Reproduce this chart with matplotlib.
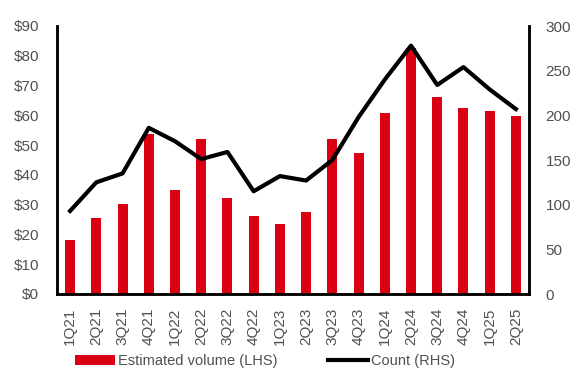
import matplotlib
matplotlib.use("Agg")
import matplotlib.pyplot as plt

quarters = ["1Q21", "2Q21", "3Q21", "4Q21", "1Q22", "2Q22", "3Q22", "4Q22",
            "1Q23", "2Q23", "3Q23", "4Q23", "1Q24", "2Q24", "3Q24", "4Q24",
            "1Q25", "2Q25"]
volume = [18.1, 25.5, 30.2, 53.7, 34.9, 52.0, 32.4, 26.1, 23.5, 27.5,
          51.9, 47.3, 60.7, 82.7, 66.1, 62.3, 61.4, 59.7]
count = [93, 125, 135, 186, 171, 151, 159, 115, 132, 127,
         150, 198, 240, 278, 234, 254, 229, 207]
left_ticks = list(range(0, 91, 10))
right_ticks = list(range(0, 301, 50))

plt.rcParams["font.family"] = ["Liberation Sans", "DejaVu Sans"]
red = "#DB0011"
grey = "#505050"

fig = plt.figure(figsize=(5.81, 3.78), dpi=100)
ax = fig.add_axes([57 / 581, 1 - 294 / 378, (529 - 57) / 581, (294 - 26) / 378])
ax2 = ax.twinx()

x = list(range(len(quarters)))
bars = ax.bar(x, volume, width=0.38, color=red, label="Estimated volume (LHS)")
line, = ax2.plot(x, count, color="black", linewidth=3, label="Count (RHS)")

ax.set_xlim(-0.5, len(quarters) - 0.5)
ax.set_ylim(0, 90)
ax2.set_ylim(0, 300)
ax.set_yticks(left_ticks)
ax.set_yticklabels([f"${v}" for v in left_ticks])
ax2.set_yticks(right_ticks)
ax.set_xticks(x)
ax.set_xticklabels(quarters, rotation=90)

for a in (ax, ax2):
    a.tick_params(length=0, labelsize=11, colors=grey)
    a.spines["top"].set_visible(False)
    for side in ("left", "right", "bottom"):
        a.spines[side].set_linewidth(1.8)
        a.spines[side].set_color("black")
ax.tick_params(axis="y", pad=13)
ax2.tick_params(axis="y", pad=12)
ax.tick_params(axis="x", pad=10)

leg = fig.legend([bars, line], ["Estimated volume (LHS)", "Count (RHS)"],
                 loc="center", bbox_to_anchor=(265 / 581, 1 - 361 / 378), ncol=2,
                 frameon=False, fontsize=10.5, handlelength=2.7,
                 columnspacing=3.5, handletextpad=0.2)
for t in leg.get_texts():
    t.set_color(grey)

fig.savefig("out.png", dpi=100)
